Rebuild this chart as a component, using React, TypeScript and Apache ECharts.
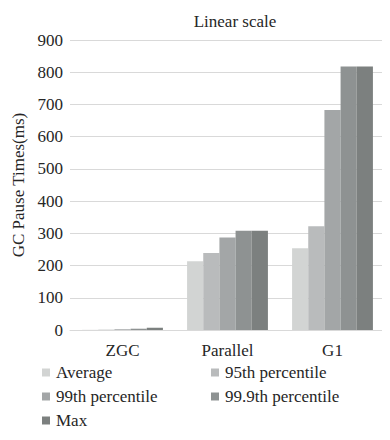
import React, { useEffect, useRef } from "react";
import * as echarts from "echarts";

const categories = ["ZGC", "Parallel", "G1"];
const seriesNames = ["Average", "95th percentile", "99th percentile", "99.9th percentile", "Max"];
const averageVals = [0.5, 213, 254];
const p95Vals = [1, 239, 322];
const p99Vals = [2, 287, 683];
const p999Vals = [4, 308, 818];
const maxVals = [7, 308, 818];
const colors = ["#d2d4d3", "#b9bbbc", "#a3a6a7", "#8e9292", "#7c807f"];
const yTicks = { min: 0, max: 900, interval: 100 };

const FONT = "Liberation Serif";
const TXT = "#262626";

export default function App() {
  const ref = useRef<HTMLDivElement>(null);
  useEffect(() => {
    if (!ref.current) return;
    const chart = echarts.init(ref.current, null, { renderer: "svg" });
    const allVals = [averageVals, p95Vals, p99Vals, p999Vals, maxVals];
    const legendCommon = {
      orient: "vertical",
      top: 364,
      padding: 0,
      itemWidth: 8,
      itemHeight: 8,
      itemGap: 7,
      icon: "rect",
      textStyle: { fontFamily: FONT, fontSize: 17, color: TXT, padding: [0, 0, 0, 1] },
    };
    chart.setOption({
      animation: false,
      backgroundColor: "#ffffff",
      textStyle: { fontFamily: FONT },
      title: {
        text: "Linear scale",
        left: 230,
        top: 8,
        textAlign: "center",
        textStyle: { fontFamily: FONT, fontSize: 17, fontWeight: "normal", color: TXT },
      },
      grid: { left: 70, right: 5, top: 40, bottom: 110, containLabel: false },
      legend: [
        { ...legendCommon, data: [seriesNames[0], seriesNames[2], seriesNames[4]], left: 42 },
        { ...legendCommon, data: [seriesNames[1], seriesNames[3]], left: 211 },
      ],
      xAxis: {
        type: "category",
        data: categories,
        axisTick: { show: false },
        axisLine: { show: true, lineStyle: { color: "#d9d9d9" } },
        axisLabel: { fontFamily: FONT, fontSize: 17, color: TXT, margin: 12 },
      },
      yAxis: {
        type: "value",
        min: yTicks.min,
        max: yTicks.max,
        interval: yTicks.interval,
        name: "GC Pause Times(ms)",
        nameLocation: "middle",
        nameGap: 43,
        nameTextStyle: { fontFamily: FONT, fontSize: 17, color: TXT },
        axisLine: { show: false },
        axisTick: { show: false },
        splitLine: { lineStyle: { color: "#d9d9d9" } },
        axisLabel: { fontFamily: FONT, fontSize: 17, color: TXT, margin: 7 },
      },
      series: seriesNames.map((name, i) => ({
        name,
        type: "bar",
        data: allVals[i],
        barGap: "0%",
        barCategoryGap: "23%",
        itemStyle: { color: colors[i] },
      })),
    });
    return () => chart.dispose();
  }, []);
  return <div ref={ref} style={{ width: 390, height: 440, margin: -8 }} />;
}
